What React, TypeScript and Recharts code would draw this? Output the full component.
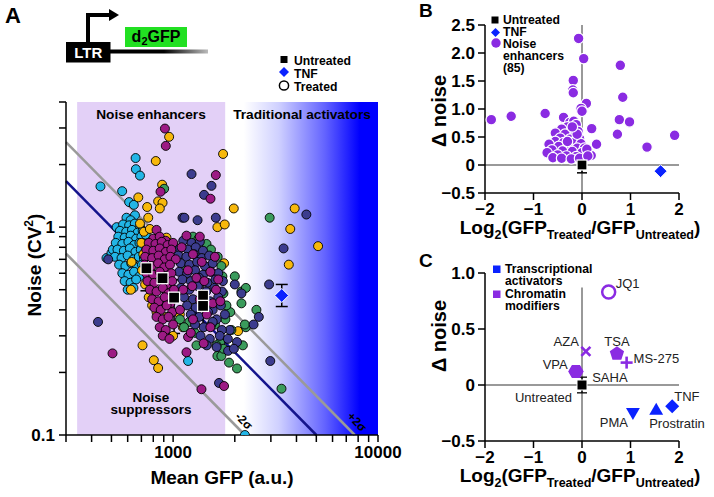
import React from 'react'
import { ScatterChart, Scatter, XAxis, YAxis, ReferenceArea, ReferenceLine, ErrorBar } from 'recharts'

const FONT = '"Liberation Sans", Arial, Helvetica, sans-serif'

// ---- Panel A: mean GFP (a.u.) vs noise (CV^2), one list per colour group
const CYAN_PTS = [
  [442, 1.57], [564, 1.49], [656, 2.15], [658, 1.9], [689, 1.77], [610, 1.32], [643, 1.28], [530, 1.0],
  [2240, 0.1], [1183, 0.227], [473, 0.71], [500, 0.75], [508, 0.78],
  [592, 1.11], [651, 1.14], [620, 1.08],
  [570, 1.03], [610, 1.02], [650, 1.04], [690, 1.0],
  [550, 0.96], [590, 0.95], [630, 0.97], [670, 0.94], [710, 0.96],
  [540, 0.9], [580, 0.89], [620, 0.91], [660, 0.88], [700, 0.9], [735, 0.92],
  [525, 0.84], [565, 0.83], [605, 0.85], [645, 0.82], [685, 0.84], [725, 0.83],
  [535, 0.78], [575, 0.77], [615, 0.79], [655, 0.76], [695, 0.78], [735, 0.77],
  [520, 0.72], [560, 0.71], [600, 0.73], [640, 0.7], [680, 0.72], [720, 0.71],
  [545, 0.66], [585, 0.65], [625, 0.67], [665, 0.64], [705, 0.66],
  [565, 0.6], [605, 0.59], [645, 0.61], [685, 0.58],
  [580, 0.55], [620, 0.54], [660, 0.56],
  [600, 0.5], [640, 0.51],
]

const YELLOW_PTS = [
  [956, 2.72], [1753, 2.25], [823, 2.08], [884, 1.6], [676, 1.39], [747, 1.25], [845, 1.33], [888, 1.31],
  [861, 1.23], [1977, 1.23], [1645, 1.0], [1786, 1.03], [756, 1.11], [689, 1.04], [622, 0.5], [1773, 0.67],
  [3920, 1.23], [3730, 0.98], [5100, 0.81], [3670, 0.66], [709, 0.27], [805, 0.229], [845, 0.21], [2075, 0.316],
  [700, 0.84], [715, 0.74], [705, 0.62], [730, 0.53], [760, 0.46], [790, 0.42], [830, 0.39], [964, 0.79],
  [964, 0.69], [830, 0.88], [928, 0.89], [627, 0.68], [930, 0.37], [1078, 0.38], [1115, 0.33], [1000, 0.3],
  [720, 0.95], [770, 0.98],
]

const GREEN_PTS = [
  [904, 1.53], [2000, 0.58], [2155, 0.49], [2265, 0.51], [2155, 0.43], [2550, 0.4], [2960, 1.11], [1900, 0.39],
  [2265, 0.33], [1645, 0.24], [1720, 0.24], [1875, 0.223], [2050, 0.209], [2190, 0.27], [1925, 0.32], [2240, 0.34],
  [3380, 0.167], [1250, 0.9], [1330, 0.88], [1455, 0.83], [1530, 0.78], [1650, 0.72], [1720, 0.65], [1150, 0.62],
  [1200, 0.35], [1280, 0.31], [1600, 0.34], [1700, 0.28], [1760, 0.26], [1540, 0.34], [1628, 0.27], [1800, 0.36],
  [1300, 0.27], [1080, 0.36], [1130, 0.33], [1760, 0.48], [1820, 0.42], [1740, 0.58],
]

const NAVY_PTS = [
  [1230, 1.8], [1539, 1.58], [1416, 1.43], [1111, 1.11], [1135, 1.11], [1316, 1.08], [1616, 1.11], [482, 0.7],
  [2000, 0.53], [2155, 0.48], [2940, 0.53], [4470, 1.15], [3460, 0.79], [2620, 0.37], [430, 0.35], [2470, 0.34],
  [1675, 0.178], [1855, 0.254], [2980, 0.227], [1890, 0.32], [2050, 0.28], [1980, 0.26],
  [1120, 0.86], [1230, 0.84], [1350, 0.85],
  [1080, 0.79], [1180, 0.78], [1290, 0.8], [1400, 0.77],
  [1060, 0.73], [1160, 0.72], [1270, 0.74], [1380, 0.71], [1500, 0.73],
  [1090, 0.67], [1200, 0.66], [1310, 0.68], [1430, 0.65], [1560, 0.67],
  [1070, 0.61], [1170, 0.6], [1280, 0.62], [1400, 0.59], [1530, 0.61], [1660, 0.6],
  [1110, 0.56], [1220, 0.55], [1340, 0.57], [1470, 0.54], [1610, 0.56], [1750, 0.55],
  [1090, 0.51], [1200, 0.5], [1320, 0.52], [1450, 0.49], [1590, 0.51], [1730, 0.49],
  [1130, 0.46], [1250, 0.45], [1380, 0.47], [1510, 0.44], [1660, 0.46],
  [1170, 0.42], [1290, 0.41], [1420, 0.43], [1560, 0.4], [1710, 0.42],
  [1220, 0.38], [1340, 0.37], [1480, 0.39], [1630, 0.36], [1790, 0.38],
  [1280, 0.34], [1410, 0.33], [1560, 0.35], [1730, 0.32],
  [1360, 0.3], [1510, 0.29], [1690, 0.3], [1850, 0.29],
  [1460, 0.27], [1630, 0.265],
]

const MAGENTA_PTS = [
  [912, 2.98], [921, 2.46], [1616, 1.78], [868, 1.48], [1522, 1.37], [830, 0.97], [506, 0.247], [1162, 0.91],
  [1350, 0.9], [1183, 0.296], [1410, 0.276], [1162, 0.25], [1375, 0.166], [1773, 0.172],
  [800, 0.88], [860, 0.9], [920, 0.86],
  [760, 0.84], [820, 0.83], [880, 0.85], [940, 0.82], [1000, 0.84],
  [740, 0.78], [800, 0.77], [860, 0.79], [920, 0.76], [980, 0.78],
  [730, 0.72], [790, 0.71], [850, 0.73], [910, 0.7], [970, 0.72], [1030, 0.7],
  [725, 0.66], [785, 0.65], [845, 0.67], [905, 0.64], [965, 0.66],
  [740, 0.6], [800, 0.59], [860, 0.61], [920, 0.58], [980, 0.6],
  [750, 0.55], [810, 0.54], [870, 0.56], [930, 0.53], [990, 0.55],
  [770, 0.5], [830, 0.49], [890, 0.51], [950, 0.48], [1010, 0.5],
  [790, 0.45], [850, 0.44], [910, 0.46], [970, 0.43],
  [810, 0.41], [870, 0.4], [930, 0.42], [990, 0.39],
  [830, 0.37], [890, 0.36], [950, 0.37],
  [860, 0.33], [920, 0.32], [1000, 0.34],
  [890, 0.3], [960, 0.29],
  [1100, 0.8], [1250, 0.74], [1180, 0.62], [1300, 0.57], [1420, 0.55], [1520, 0.61], [1620, 0.5], [1350, 0.45],
  [1460, 0.38], [1560, 0.43], [1250, 0.36], [1120, 0.5], [1700, 0.44], [1660, 0.56], [1220, 0.31], [1520, 0.33],
  [1080, 0.4], [1380, 0.68], [1600, 0.72], [1240, 0.52],
]

const UNTREATED_A = [[741, 0.634], [888, 0.568], [1011, 0.458], [1400, 0.468], [1400, 0.418]]
const UNTREATED_A_ERR = [[0.14, 0.1], [0.16, 0.1], [0.15, 0.1], [0.06, 0.06], [0.08, 0.06]]
const TNF_A = [3390, 0.469]
const TNF_A_ERR = [0.054, 0.061]

// CV^2 = k / mean : fitted trend and +/- 2 sigma bounds
const K_FIT = 500
const K_LOW = 224
const K_HIGH = 770

const X_TICKS_A = [300, 400, 500, 600, 700, 800, 900, 1000, 2000, 3000, 4000, 5000, 6000, 7000, 8000, 9000, 10000]
const Y_TICKS_A = [0.1, 0.2, 0.3, 0.4, 0.5, 0.6, 0.7, 0.8, 0.9, 1, 2, 3, 4]

// ---- Panel B: log2 fold change vs delta noise
const ENHANCERS_B = [
  [-0.07, 2.26], [0.035, 1.9], [0.79, 1.78], [-0.18, 1.51], [-0.19, 1.34], [-0.18, 1.29], [0.84, 1.21], [0.09, 1.1],
  [-0.02, 1.01], [0.0, 0.96], [-1.87, 0.81], [-1.46, 0.87], [-0.76, 0.92], [0.77, 0.81], [0.98, 0.77], [0.2, 0.65],
  [0.73, 0.55], [1.91, 0.53], [1.34, 0.32], [0.3, 0.37], [0.19, 0.17],
  [-0.38, 0.85], [-0.25, 0.76], [-0.17, 0.78], [-0.12, 0.72], [-0.3, 0.68], [-0.42, 0.64], [-0.2, 0.62], [-0.08, 0.6],
  [-0.55, 0.57], [-0.35, 0.55], [-0.15, 0.52], [-0.45, 0.48], [-0.25, 0.46], [-0.05, 0.47], [-0.55, 0.42], [-0.38, 0.4],
  [-0.18, 0.4], [-0.02, 0.38], [-0.68, 0.37], [-0.48, 0.33], [-0.28, 0.32], [-0.1, 0.3], [0.05, 0.3], [-0.62, 0.27],
  [-0.4, 0.25], [-0.2, 0.24], [0.0, 0.22], [-0.72, 0.22], [-0.5, 0.18], [-0.32, 0.16], [-0.12, 0.15], [0.1, 0.28],
  [-0.6, 0.13], [-0.42, 0.12], [-0.22, 0.11], [-0.05, 0.12], [0.12, 0.16], [-0.3, 0.42], [-0.1, 0.55], [-0.2, 0.68],
]
const UNTREATED_B = [0, 0]
const UNTREATED_B_ERR = 0.14
const TNF_B = [1.62, -0.11]

// ---- Panel C: named compounds
const C_NAMES = ['SAHA', 'VPA', 'AZA', 'TSA', 'MS-275', 'JQ1', 'PMA', 'Prostratin', 'TNF']
const C_X = [-0.12, -0.13, 0.08, 0.72, 0.92, 0.55, 1.05, 1.53, 1.86]
const C_Y = [0.12, 0.12, 0.3, 0.28, 0.2, 0.83, -0.25, -0.22, -0.19]
const C_GROUP = ['chromatin', 'chromatin', 'chromatin', 'chromatin', 'chromatin', 'chromatin', 'activator', 'activator', 'activator']
const UNTREATED_C = [0, 0]
const UNTREATED_C_ERR = 0.07

const B_TICKS_X = [-2, -1, 0, 1, 2]
const B_TICKS_Y = [-0.5, 0, 0.5, 1, 1.5, 2, 2.5]
const C_TICKS_Y = [-0.5, 0, 0.5, 1]

// styles
const PURPLE = '#8a2be2'
const BLUE = '#0a22ff'
const GROUP_COLOR: Record<string, string> = { chromatin: PURPLE, activator: BLUE }
const MARK: Record<string, string> = {
  SAHA: 'hexagon', VPA: 'hexagon', AZA: 'cross', TSA: 'pentagon', 'MS-275': 'plus',
  JQ1: 'ring', PMA: 'triDown', Prostratin: 'triUp', TNF: 'diamond',
}
const LABEL_POS: Record<string, [number, number, string]> = {
  SAHA: [16, 10, 'start'], VPA: [-8, -3, 'end'], AZA: [-7, -5, 'end'], TSA: [0, -8, 'middle'],
  'MS-275': [7, 0, 'start'], JQ1: [7, -4, 'start'], PMA: [-5, 14, 'end'], Prostratin: [-7, 18, 'start'],
  TNF: [2, -5, 'start'], Untreated: [-10, 17, 'end'],
}

const toXY = (arr: number[][]) => arr.map(([x, y]) => ({ x, y }))
const cData = C_NAMES.map((name, i) => ({ name, x: C_X[i], y: C_Y[i], group: C_GROUP[i] }))

const axisStroke = { stroke: '#000', strokeWidth: 1.5 }
const tickFont = { fill: '#000', fontSize: 17, fontWeight: 'bold', fontFamily: FONT }

const dot = (fill: string, stroke: string, r: number, sw: number) => (p: any) =>
  <circle cx={p.cx} cy={p.cy} r={r} fill={fill} stroke={stroke} strokeWidth={sw} />

const squareShape = (half: number) => (p: any) =>
  <rect x={p.cx - half} y={p.cy - half} width={half * 2} height={half * 2} fill="#000" stroke="#fff" strokeWidth={1.3} />

const diamondShape = (half: number, color: string) => (p: any) =>
  <polygon points={`${p.cx},${p.cy - half} ${p.cx + half},${p.cy} ${p.cx},${p.cy + half} ${p.cx - half},${p.cy}`} fill={color} stroke="#fff" strokeWidth={1} />

const poly = (cx: number, cy: number, n: number, r: number, rot: number) =>
  Array.from({ length: n }, (_, k) => {
    const a = rot + (k * 2 * Math.PI) / n
    return `${cx + r * Math.cos(a)},${cy + r * Math.sin(a)}`
  }).join(' ')

function Marker({ kind, cx, cy, color }: { kind: string; cx: number; cy: number; color: string }) {
  switch (kind) {
    case 'ring':
      return <circle cx={cx} cy={cy} r={6.5} fill="#fff" stroke={color} strokeWidth={2.5} />
    case 'cross':
      return (
        <g stroke={color} strokeWidth={2.6}>
          <line x1={cx - 4.5} y1={cy - 4.5} x2={cx + 4.5} y2={cy + 4.5} />
          <line x1={cx - 4.5} y1={cy + 4.5} x2={cx + 4.5} y2={cy - 4.5} />
        </g>
      )
    case 'plus':
      return (
        <g stroke={color} strokeWidth={2.6}>
          <line x1={cx - 6} y1={cy} x2={cx + 6} y2={cy} />
          <line x1={cx} y1={cy - 6} x2={cx} y2={cy + 6} />
        </g>
      )
    case 'pentagon':
      return <polygon points={poly(cx, cy, 5, 7.5, -Math.PI / 2)} fill={color} />
    case 'hexagon':
      return <polygon points={poly(cx, cy, 6, 7.5, 0)} fill={color} />
    case 'triUp':
      return <polygon points={poly(cx, cy + 1, 3, 8, -Math.PI / 2)} fill={color} />
    case 'triDown':
      return <polygon points={poly(cx, cy - 1, 3, 8, Math.PI / 2)} fill={color} />
    case 'diamond':
      return <polygon points={`${cx},${cy - 7} ${cx + 7},${cy} ${cx},${cy + 7} ${cx - 7},${cy}`} fill={color} />
    default:
      return <circle cx={cx} cy={cy} r={5} fill={color} />
  }
}

const Label2 = ({ name, cx, cy }: { name: string; cx: number; cy: number }) => {
  const [dx, dy, anchor] = LABEL_POS[name]
  return (
    <text x={cx + dx} y={cy + dy} textAnchor={anchor as any} fontSize={13} fontFamily={FONT} fill="#222">
      {name}
    </text>
  )
}

const compoundShape = (p: any) => {
  const d = p.payload
  return (
    <g>
      <Marker kind={MARK[d.name]} cx={p.cx} cy={p.cy} color={GROUP_COLOR[d.group]} />
      <Label2 name={d.name} cx={p.cx} cy={p.cy} />
    </g>
  )
}

const untreatedCShape = (p: any) => (
  <g>
    <rect x={p.cx - 5} y={p.cy - 5} width={10} height={10} fill="#000" stroke="#fff" strokeWidth={1} />
    <Label2 name="Untreated" cx={p.cx} cy={p.cy} />
  </g>
)

const signed = (v: number, digits: number) =>
  v === 0 ? '0' : (v < 0 ? '\u2212' : '') + Math.abs(v).toFixed(digits)

function PanelA() {
  return (
    <ScatterChart width={415} height={497} margin={{ top: 102, right: 37, bottom: 0, left: 0 }}>
      <defs>
        <linearGradient id="activGrad" x1="0" y1="0" x2="1" y2="0">
          <stop offset="0" stopColor="#ffffff" />
          <stop offset="0.12" stopColor="#ffffff" />
          <stop offset="0.35" stopColor="#cfd0ff" />
          <stop offset="0.65" stopColor="#6464ff" />
          <stop offset="0.88" stopColor="#0000ff" />
          <stop offset="1" stopColor="#0000ff" />
        </linearGradient>
      </defs>
      <XAxis
        type="number" dataKey="x" scale="log" domain={[300, 10000]} allowDataOverflow
        ticks={X_TICKS_A} interval={0} height={62} tickSize={7} tickMargin={4}
        tickFormatter={(v: number) => (v === 1000 || v === 10000 ? String(v) : '')}
        axisLine={axisStroke} tickLine={axisStroke} tick={tickFont}
      />
      <YAxis
        type="number" dataKey="y" scale="log" domain={[0.1, 4]} allowDataOverflow
        ticks={Y_TICKS_A} interval={0} width={66} tickSize={7} tickMargin={4}
        tickFormatter={(v: number) => (v === 1 ? '1' : v === 0.1 ? '0.1' : '')}
        axisLine={axisStroke} tickLine={axisStroke} tick={tickFont}
      />
      <ReferenceArea x1={340} x2={1800} y1={0.1} y2={4} fill="#e3d0f7" fillOpacity={1} stroke="none" />
      <ReferenceArea x1={1800} x2={10000} y1={0.1} y2={4} fill="url(#activGrad)" fillOpacity={1} stroke="none" />
      <ReferenceLine segment={[{ x: 300, y: K_HIGH / 300 }, { x: K_HIGH / 0.1, y: 0.1 }]} stroke="#9a9a9a" strokeWidth={2.5} />
      <ReferenceLine segment={[{ x: 300, y: K_LOW / 300 }, { x: K_LOW / 0.1, y: 0.1 }]} stroke="#9a9a9a" strokeWidth={2.5} />
      <ReferenceLine segment={[{ x: 300, y: K_FIT / 300 }, { x: K_FIT / 0.1, y: 0.1 }]} stroke="#14148c" strokeWidth={2.5} />
      <Scatter data={toXY(CYAN_PTS)} shape={dot('#22b5e6', '#000', 4.5, 0.9)} isAnimationActive={false} />
      <Scatter data={toXY(YELLOW_PTS)} shape={dot('#f7b80c', '#000', 4.5, 0.9)} isAnimationActive={false} />
      <Scatter data={toXY(GREEN_PTS)} shape={dot('#3a9b5c', '#000', 4.5, 0.9)} isAnimationActive={false} />
      <Scatter data={toXY(NAVY_PTS)} shape={dot('#3c3c8e', '#000', 4.5, 0.9)} isAnimationActive={false} />
      <Scatter data={toXY(MAGENTA_PTS)} shape={dot('#9c1a84', '#000', 4.5, 0.9)} isAnimationActive={false} />
      <Scatter
        data={UNTREATED_A.map(([x, y], i) => ({ x, y, err: UNTREATED_A_ERR[i] }))}
        shape={squareShape(5.5)} isAnimationActive={false}
      >
        <ErrorBar dataKey="err" direction="y" width={6} stroke="#000" strokeWidth={1.5} isAnimationActive={false} />
      </Scatter>
      <Scatter data={[{ x: TNF_A[0], y: TNF_A[1], err: TNF_A_ERR }]} shape={diamondShape(7, BLUE)} isAnimationActive={false}>
        <ErrorBar dataKey="err" direction="y" width={6} stroke="#000" strokeWidth={1.5} isAnimationActive={false} />
      </Scatter>
    </ScatterChart>
  )
}

function PanelB() {
  return (
    <ScatterChart width={294} height={250} margin={{ top: 25, right: 35, bottom: 0, left: 0 }}>
      <XAxis
        type="number" dataKey="x" domain={[-2, 2]} ticks={B_TICKS_X} interval={0} height={57}
        tickSize={7} tickMargin={3} tickFormatter={(v: number) => signed(v, 0)}
        axisLine={axisStroke} tickLine={axisStroke} tick={tickFont}
      />
      <YAxis
        type="number" dataKey="y" domain={[-0.5, 2.5]} ticks={B_TICKS_Y} interval={0} width={65}
        tickSize={7} tickMargin={3} tickFormatter={(v: number) => signed(v, 1)}
        axisLine={axisStroke} tickLine={axisStroke} tick={tickFont}
      />
      <ReferenceLine x={0} stroke="#999" strokeWidth={2} />
      <ReferenceLine y={0} stroke="#999" strokeWidth={2} />
      <Scatter data={toXY(ENHANCERS_B)} shape={dot(PURPLE, '#fff', 5.3, 1.2)} isAnimationActive={false} />
      <Scatter data={[{ x: UNTREATED_B[0], y: UNTREATED_B[1], err: UNTREATED_B_ERR }]} shape={squareShape(5)} isAnimationActive={false}>
        <ErrorBar dataKey="err" direction="y" width={5} stroke="#000" strokeWidth={1.5} isAnimationActive={false} />
      </Scatter>
      <Scatter data={[{ x: TNF_B[0], y: TNF_B[1] }]} shape={diamondShape(6.5, BLUE)} isAnimationActive={false} />
    </ScatterChart>
  )
}

function PanelC() {
  return (
    <ScatterChart width={294} height={247} margin={{ top: 23, right: 35, bottom: 0, left: 0 }}>
      <XAxis
        type="number" dataKey="x" domain={[-2, 2]} ticks={B_TICKS_X} interval={0} height={56}
        tickSize={7} tickMargin={3} tickFormatter={(v: number) => signed(v, 0)}
        axisLine={axisStroke} tickLine={axisStroke} tick={tickFont}
      />
      <YAxis
        type="number" dataKey="y" domain={[-0.5, 1]} ticks={C_TICKS_Y} interval={0} width={65}
        tickSize={7} tickMargin={3} tickFormatter={(v: number) => signed(v, 1)}
        axisLine={axisStroke} tickLine={axisStroke} tick={tickFont}
      />
      <ReferenceLine segment={[{ x: 0, y: -0.5 }, { x: 0, y: 0.87 }]} stroke="#999" strokeWidth={2} />
      <ReferenceLine y={0} stroke="#999" strokeWidth={2} />
      <Scatter data={[{ x: UNTREATED_C[0], y: UNTREATED_C[1], err: UNTREATED_C_ERR }]} shape={untreatedCShape} isAnimationActive={false}>
        <ErrorBar dataKey="err" direction="y" width={5} stroke="#000" strokeWidth={1.3} isAnimationActive={false} />
      </Scatter>
      <Scatter data={cData} shape={compoundShape} isAnimationActive={false} />
    </ScatterChart>
  )
}

function Overlay() {
  const bold = { fontFamily: FONT, fontWeight: 'bold' as const, fill: '#000' }
  const leg = 12.2
  return (
    <svg width={714} height={497} style={{ position: 'absolute', left: 0, top: 0, pointerEvents: 'none' }}>
      <defs>
        <linearGradient id="ltrLine" x1="0" y1="0" x2="1" y2="0">
          <stop offset="0" stopColor="#000" />
          <stop offset="0.55" stopColor="#000" />
          <stop offset="1" stopColor="#bbb" />
        </linearGradient>
      </defs>
      {/* panel letters */}
      <text x={5} y={23} fontSize={22} {...bold}>A</text>
      <text x={419} y={17} fontSize={19} {...bold}>B</text>
      <text x={419} y={267} fontSize={19} {...bold}>C</text>

      {/* LTR-d2GFP construct */}
      <path d="M88,43 V15 H111" fill="none" stroke="#000" strokeWidth={4} />
      <polygon points="109,9 119,15 109,21" fill="#000" />
      <rect x={110} y={49.5} width={98} height={4} fill="url(#ltrLine)" />
      <rect x={66} y={42} width={44.5} height={20.5} fill="#000" />
      <text x={88.3} y={57.5} fontSize={15} textAnchor="middle" {...bold} fill="#fff">LTR</text>
      <rect x={125} y={27} width={62} height={20} fill="#22e022" />
      <text x={156} y={42} fontSize={16} textAnchor="middle" {...bold}>
        d<tspan fontSize={11} dy={3}>2</tspan><tspan dy={-3}>GFP</tspan>
      </text>

      {/* legend A */}
      <rect x={280.5} y={56} width={7} height={7} fill="#000" />
      <text x={294} y={65} fontSize={leg} {...bold}>Untreated</text>
      <polygon points="284,67 289,72 284,77 279,72" fill={BLUE} />
      <text x={294} y={77.5} fontSize={leg} {...bold}>TNF</text>
      <circle cx={284} cy={85.5} r={4.6} fill="#fff" stroke="#000" strokeWidth={1.5} />
      <text x={294} y={90.5} fontSize={leg} {...bold}>Treated</text>

      {/* region labels A */}
      <text x={151} y={119} fontSize={13.7} textAnchor="middle" {...bold}>Noise enhancers</text>
      <text x={302} y={119} fontSize={13.7} textAnchor="middle" {...bold}>Traditional activators</text>
      <text x={151} y={401.5} fontSize={13.5} textAnchor="middle" {...bold}>Noise</text>
      <text x={151} y={413.5} fontSize={13.5} textAnchor="middle" {...bold}>suppressors</text>
      <text transform="translate(244,421) rotate(45)" fontSize={12} textAnchor="middle" dominantBaseline="central" {...bold}>-2σ</text>
      <text transform="translate(357,422) rotate(45)" fontSize={12} textAnchor="middle" dominantBaseline="central" {...bold}>+2σ</text>

      {/* axis titles A */}
      <text transform="translate(41,265) rotate(-90)" fontSize={19} textAnchor="middle" {...bold}>
        Noise (CV<tspan fontSize={12} dy={-8}>2</tspan><tspan dy={8}>)</tspan>
      </text>
      <text x={222} y={484} fontSize={19} textAnchor="middle" {...bold}>Mean GFP (a.u.)</text>

      {/* legend B */}
      <rect x={491.5} y={16.5} width={7} height={7} fill="#000" />
      <text x={503} y={23.5} fontSize={leg} {...bold}>Untreated</text>
      <polygon points="495.5,28 500,32.5 495.5,37 491,32.5" fill={BLUE} />
      <text x={503} y={36} fontSize={leg} {...bold}>TNF</text>
      <circle cx={496} cy={43} r={4.7} fill={PURPLE} />
      <text x={503} y={47.5} fontSize={leg} {...bold}>Noise</text>
      <text x={503} y={59.5} fontSize={leg} {...bold}>enhancers</text>
      <text x={503} y={71.5} fontSize={leg} {...bold}>(85)</text>

      {/* axis titles B */}
      <text transform="translate(446,111) rotate(-90)" fontSize={20} textAnchor="middle" {...bold}>Δ noise</text>
      <text x={580} y={234} fontSize={19} textAnchor="middle" {...bold}>
        Log<tspan fontSize={12.5} dy={5}>2</tspan><tspan dy={-5}>(GFP</tspan><tspan fontSize={12.5} dy={5}>Treated</tspan>
        <tspan dy={-5}>/GFP</tspan><tspan fontSize={12.5} dy={5}>Untreated</tspan><tspan dy={-5}>)</tspan>
      </text>

      {/* legend C */}
      <rect x={493} y={265.5} width={7.5} height={7.5} fill={BLUE} />
      <text x={505} y={273} fontSize={leg} {...bold}>Transcriptional</text>
      <text x={505} y={284.5} fontSize={leg} {...bold}>activators</text>
      <rect x={493} y={290.5} width={7.5} height={7.5} fill={PURPLE} />
      <text x={505} y={298} fontSize={leg} {...bold}>Chromatin</text>
      <text x={505} y={309.5} fontSize={leg} {...bold}>modifiers</text>

      {/* axis titles C */}
      <text transform="translate(446,336) rotate(-90)" fontSize={20} textAnchor="middle" {...bold}>Δ noise</text>
      <text x={580} y={482} fontSize={19} textAnchor="middle" {...bold}>
        Log<tspan fontSize={12.5} dy={5}>2</tspan><tspan dy={-5}>(GFP</tspan><tspan fontSize={12.5} dy={5}>Treated</tspan>
        <tspan dy={-5}>/GFP</tspan><tspan fontSize={12.5} dy={5}>Untreated</tspan><tspan dy={-5}>)</tspan>
      </text>
    </svg>
  )
}

export default function App() {
  return (
    <div style={{ position: 'absolute', left: 0, top: 0, width: 714, height: 497, background: '#fff', fontFamily: FONT }}>
      <div style={{ position: 'absolute', left: 0, top: 0 }}>
        <PanelA />
      </div>
      <div style={{ position: 'absolute', left: 420, top: 0 }}>
        <PanelB />
      </div>
      <div style={{ position: 'absolute', left: 420, top: 250 }}>
        <PanelC />
      </div>
      <Overlay />
    </div>
  )
}
